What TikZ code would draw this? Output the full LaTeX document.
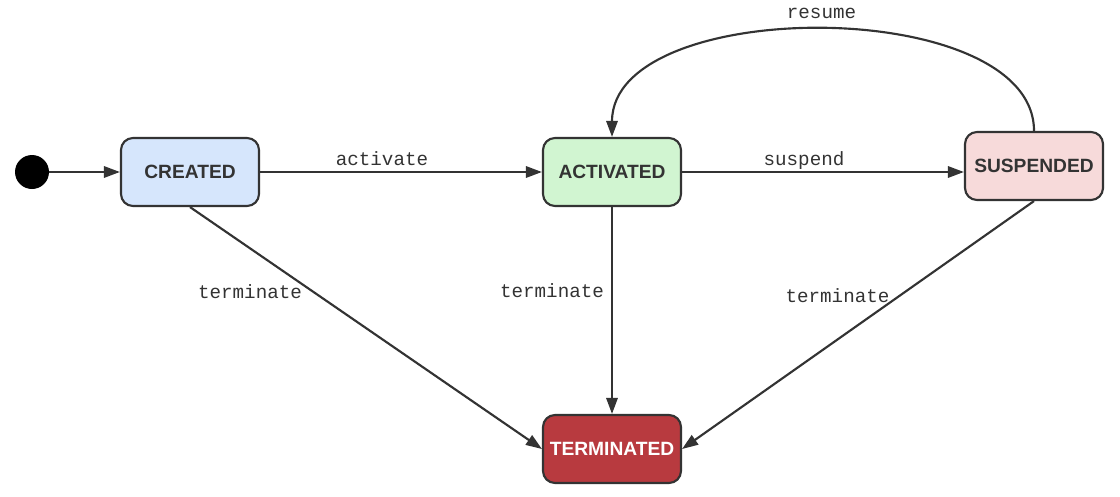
\documentclass[tikz,border=0pt]{standalone}
\usepackage{fontspec}
\setmainfont{Liberation Sans}
\newfontfamily\labelfont{Liberation Mono}
\usetikzlibrary{arrows.meta}
\definecolor{ink}{HTML}{333333}
\definecolor{createdfill}{HTML}{D6E6FC}
\definecolor{activefill}{HTML}{D1F5D1}
\definecolor{suspfill}{HTML}{F7DADA}
\definecolor{termfill}{HTML}{B83A3F}
\begin{document}
\begin{tikzpicture}[x=0.75pt,y=-0.75pt,
  statebox/.style={draw=ink, line width=1.6pt, rounded corners=9pt,
    minimum width=103.5pt, minimum height=51pt, inner sep=0pt,
    font=\fontsize{14.4pt}{16pt}\selectfont\bfseries, text=ink},
  startdot/.style={circle, fill=black, minimum size=25.5pt, inner sep=0pt},
  arr/.style={draw=ink, line width=1.6pt, -{Triangle[length=12pt,width=8.5pt]}},
  lbl/.style={anchor=base, inner sep=0pt, text=ink,
    font=\labelfont\fontsize{14.4pt}{16pt}\selectfont}]
\useasboundingbox (0,0) rectangle (1120,496);
\node[startdot] (init) at (32,172) {};
\node[statebox, fill=createdfill] (created) at (190,172) {CREATED};
\node[statebox, fill=activefill] (activated) at (612,172) {ACTIVATED};
\node[statebox, fill=suspfill] (suspended) at (1034,166) {SUSPENDED};
\node[statebox, fill=termfill, text=white] (terminated) at (612,449) {TERMINATED};

\draw[arr] (init) -- (created);
\draw[arr] (created) -- (activated);
\draw[arr] (activated.east) -- (suspended.west |- activated.east);
\draw[arr] (suspended.north) .. controls +(0,-136) and +(0,-142) .. (activated.north);
\draw[arr] (created.south) -- (terminated.west);
\draw[arr] (activated.south) -- (terminated.north);
\draw[arr] (suspended.south) -- (terminated.east);

\node[lbl] (lact) at (382,165) {activate};
\node[lbl] (lsus) at (804,165) {suspend};
\node[lbl] (lres) at (821.5,18) {resume};
\node[lbl] (lt1) at (250,298) {terminate};
\node[lbl] (lt2) at (552,297) {terminate};
\node[lbl] (lt3) at (837.5,302) {terminate};
\end{tikzpicture}
\end{document}
